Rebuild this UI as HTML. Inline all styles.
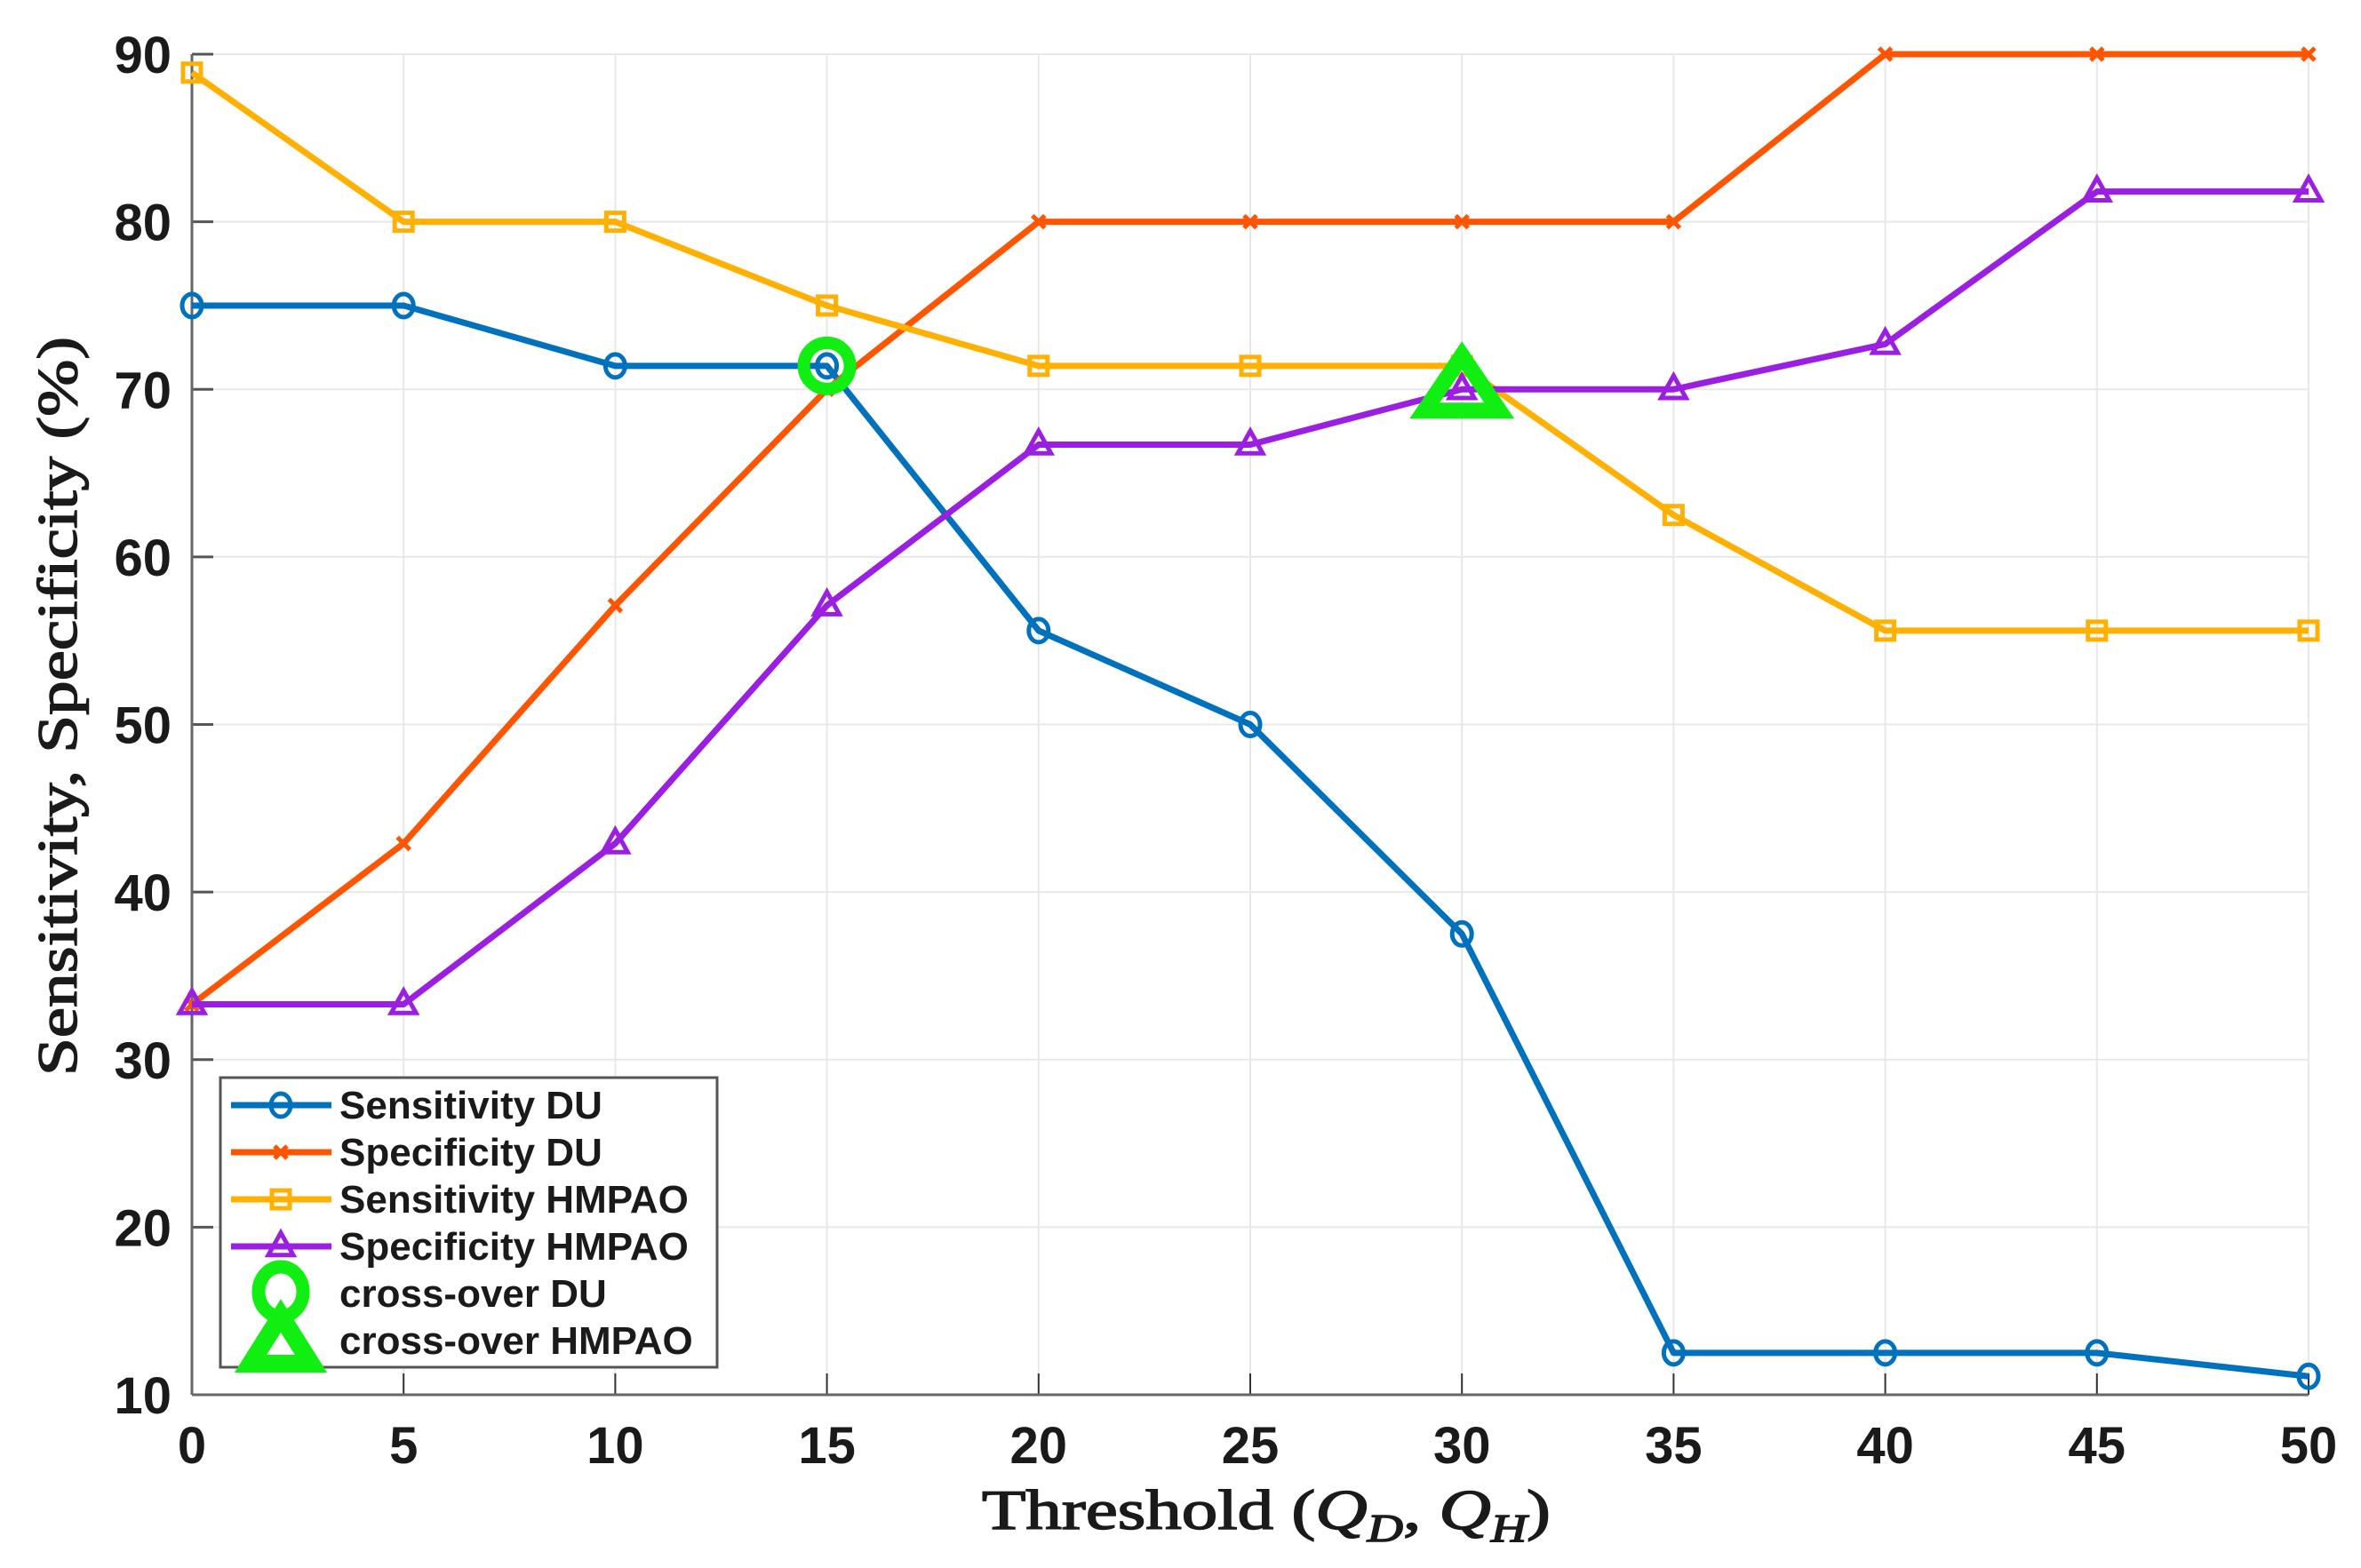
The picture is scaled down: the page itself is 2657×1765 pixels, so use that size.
<!DOCTYPE html>
<html><head><meta charset="utf-8"><style>
html,body{margin:0;padding:0;background:#fff}
svg{display:block}
</style></head><body>
<svg id="chart" width="2657" height="1765" viewBox="0 0 2657 1765" xmlns="http://www.w3.org/2000/svg">
<rect width="2657" height="1765" fill="#fff"/>
<g id="grid"></g>
<g id="axes"></g>
<g id="series"></g>
<text x="1425" y="1721" text-anchor="middle" font-family="Liberation Serif, serif" font-size="64" fill="#1a1a1a" stroke="#1a1a1a" stroke-width="1.5" textLength="640" lengthAdjust="spacingAndGlyphs">Threshold  (<tspan font-style="italic">Q</tspan><tspan font-style="italic" font-size="44" dy="14">D</tspan><tspan dy="-14">,  </tspan><tspan font-style="italic">Q</tspan><tspan font-style="italic" font-size="44" dy="14">H</tspan><tspan dy="-14">)</tspan></text>
<text transform="translate(86,795) rotate(-90)" text-anchor="middle" font-family="Liberation Serif, serif" font-size="64" fill="#1a1a1a" stroke="#1a1a1a" stroke-width="1.5" textLength="832" lengthAdjust="spacingAndGlyphs">Sensitivity,  Specificity  (%)</text>
<g id="legend"></g>
</svg>
<script>
const xValues = [0,5,10,15,20,25,30,35,40,45,50];
const sensDU = [75,75,71.4,71.4,55.6,50,37.5,12.5,12.5,12.5,11.1];
const specDU = [33.3,42.9,57.1,70,80,80,80,80,90,90,90];
const sensHM = [88.9,80,80,75,71.4,71.4,71.4,62.5,55.6,55.6,55.6];
const specHM = [33.3,33.3,42.9,57.1,66.7,66.7,70,70,72.7,81.8,81.8];
const crossDU = [15,71.4];
const crossHM = [30,70];
const xTicks = [0,5,10,15,20,25,30,35,40,45,50];
const yTicks = [10,20,30,40,50,60,70,80,90];

const NS='http://www.w3.org/2000/svg';
const L=216,R=2598,T=61,B=1570;
const xs=v=>L+(v-0)/(50-0)*(R-L);
const ys=v=>B-(v-10)/(90-10)*(B-T);
function mk(tag,attrs,parent){const e=document.createElementNS(NS,tag);for(const k in attrs)e.setAttribute(k,attrs[k]);parent.appendChild(e);return e;}
const grid=document.getElementById('grid'),axes=document.getElementById('axes'),series=document.getElementById('series'),legend=document.getElementById('legend');

xTicks.forEach(t=>{
  const g=mk('line',{x1:xs(t),x2:xs(t),y1:T,y2:B,stroke:'#e8e8e8','stroke-width':2},grid);
  
  
  const tk=mk('line',{x1:xs(t),x2:xs(t),y1:B,y2:B-24,stroke:'#333','stroke-width':2},axes);
  
  
  const lb=mk('text',{x:xs(t),y:1647,'text-anchor':'middle','font-family':'Liberation Sans, sans-serif','font-size':58,'font-weight':'bold',fill:'#1a1a1a'},axes);
  
  
  lb.textContent=t;
});
yTicks.forEach(t=>{
  const g=mk('line',{x1:L,x2:R,y1:ys(t),y2:ys(t),stroke:'#e8e8e8','stroke-width':2},grid);
  
  
  const tk=mk('line',{x1:L,x2:L+24,y1:ys(t),y2:ys(t),stroke:'#555','stroke-width':3},axes);
  
  
  const lb=mk('text',{x:193,y:ys(t)+21,'text-anchor':'end','font-family':'Liberation Sans, sans-serif','font-size':58,'font-weight':'bold',fill:'#1a1a1a'},axes);
  
  
  lb.textContent=t;
});
const ax1=mk('line',{x1:L,x2:L,y1:T,y2:B,stroke:'#666','stroke-width':3},axes);


const ax2=mk('line',{x1:L,x2:R,y1:B,y2:B,stroke:'#666','stroke-width':3},axes);



function marker(kind,x,y,color,parent,size){
  size=size||1;
  let e;
  if(kind==='o'){e=mk('ellipse',{cx:x,cy:y,rx:11*size,ry:13*size,fill:'none',stroke:color,'stroke-width':5*size},parent);}
  else if(kind==='x'){const s=7;e=mk('path',{d:`M${x-s},${y-s}L${x+s},${y+s}M${x-s},${y+s}L${x+s},${y-s}`,stroke:color,'stroke-width':5,fill:'none'},parent);}
  else if(kind==='s'){const s=10;e=mk('rect',{x:x-s,y:y-s,width:2*s,height:2*s,fill:'none',stroke:color,'stroke-width':5},parent);}
  else {const s=14*size;e=mk('path',{d:`M${x},${y-s*1.1}L${x+s},${y+s*0.7}L${x-s},${y+s*0.7}Z`,fill:'none',stroke:color,'stroke-width':5*size},parent);}
  return e;
}
const defs=[
  {data:sensDU,color:'#0072BD',m:'o',name:'sensitivity-du'},
  {data:specDU,color:'#FF5500',m:'x',name:'specificity-du'},
  {data:sensHM,color:'#FFB000',m:'s',name:'sensitivity-hmpao'},
  {data:specHM,color:'#9B1FE0',m:'^',name:'specificity-hmpao'}
];
defs.forEach(d=>{
  const g=mk('g',{},series);
  
  
  const pts=d.data.map((v,i)=>xs(xValues[i])+','+ys(v)).join(' ');
  const pl=mk('polyline',{points:pts,fill:'none',stroke:d.color,'stroke-width':7,'stroke-linejoin':'round'},g);
  
  
  d.data.forEach((v,i)=>{
    const m=marker(d.m,xs(xValues[i]),ys(v),d.color,g);
    
    
  });
});
const cg=mk('g',{},series);


const c1=mk('circle',{cx:xs(crossDU[0]),cy:ys(crossDU[1]),r:26,fill:'none',stroke:'#11EE11','stroke-width':14},cg);


const cx2=xs(crossHM[0]),cy2=ys(crossHM[1]);
const c2=mk('path',{d:`M${cx2},${cy2-38}L${cx2+42},${cy2+24}L${cx2-42},${cy2+24}Z`,fill:'none',stroke:'#11EE11','stroke-width':18,'stroke-linejoin':'miter'},cg);



// legend
const lb=mk('rect',{x:248,y:1213,width:559,height:326,fill:'#fff',stroke:'#555','stroke-width':3},legend);


const labels=['Sensitivity DU','Specificity DU','Sensitivity HMPAO','Specificity HMPAO','cross-over DU','cross-over HMPAO'];
labels.forEach((t,i)=>{
  const y=1244+i*53;
  const g=mk('g',{},legend);
  
  
  if(i<4){
    const d=defs[i];
    mk('line',{x1:260,x2:373,y1:y,y2:y,stroke:d.color,'stroke-width':7},g);
    marker(d.m,316,y,d.color,g);
  } else if(i===4){
    mk('ellipse',{cx:316,cy:y-2,rx:25,ry:28,fill:'none',stroke:'#11EE11','stroke-width':15},g);
  } else {
    mk('path',{d:`M316,${y-28}L350,${y+26}L282,${y+26}Z`,fill:'none',stroke:'#11EE11','stroke-width':20},g);
  }
  const tx=mk('text',{x:382,y:y+15,'font-family':'Liberation Sans, sans-serif','font-size':44,'font-weight':'bold',fill:'#1a1a1a'},g);
  
  
  tx.textContent=t;
});
</script>
</body></html>
